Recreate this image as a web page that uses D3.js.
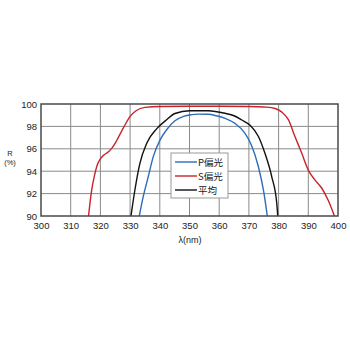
<!DOCTYPE html>
<html><head><meta charset="utf-8">
<script src="https://cdn.jsdelivr.net/npm/d3@7"></script>
<style>body{margin:0;background:#fff}svg{display:block}</style>
</head><body>
<svg id="c" width="350" height="350"></svg>
<script>
const xTicks = [300,310,320,330,340,350,360,370,380,390,400];
const yTicks = [90,92,94,96,98,100];
const seriesNames = ["P偏光","S偏光","平均"];
const seriesColors = ["#2c6db5","#c8232c","#111111"];

const pWl  = [333.1,334.4,336.1,337.8,340.1,342.3,345.1,348,350.7,353,356.3,359,362,365.3,368.7,370.9,373.2,374.9,376.2];
const pVal = [90,91.7,93.5,95.3,96.8,97.7,98.5,98.9,99.05,99.1,99.08,98.95,98.72,98.27,97.38,96.3,94.4,92.3,90];

const sWl  = [316,317,318,319,320,321,322,323,324,325,326,328,330,332,335,340,350,360,370,376,378.8,381,383.3,385.5,387.8,390,392.3,394.5,396.7,398.8];
const sVal = [90,92.2,93.6,94.6,95.1,95.4,95.6,95.8,96.1,96.5,97.0,98.0,98.9,99.4,99.7,99.78,99.8,99.8,99.78,99.72,99.6,99.3,98.6,97.1,95.6,94.1,93.2,92.5,91.4,90];

const aWl  = [330.3,331.6,333.3,335.6,339,342.3,345.1,350,356.3,361.95,365,367.6,370.4,373.2,375.4,377.7,379.4,379.7];
const aVal = [90,92.3,94.7,96.5,97.8,98.6,99.15,99.4,99.4,99.17,98.95,98.57,98.1,97.1,95.6,93.5,91.1,90];

const svg = d3.select("#c");
const L=41, R=338, T=104, B=216;
const x = d3.scaleLinear().domain([300,400]).range([L,R]);
const y = d3.scaleLinear().domain([90,100]).range([B,T]);
const font = "'Liberation Sans', Arial, sans-serif";

// grid
svg.append("g").selectAll("line").data(xTicks.slice(1,-1)).join("line")
  .attr("x1",d=>x(d)).attr("x2",d=>x(d)).attr("y1",T).attr("y2",B)
  .attr("stroke","#8a8a8a").attr("stroke-width",1);
svg.append("g").selectAll("line").data(yTicks.slice(1,-1)).join("line")
  .attr("y1",d=>y(d)).attr("y2",d=>y(d)).attr("x1",L).attr("x2",R)
  .attr("stroke","#8a8a8a").attr("stroke-width",1);

// axes labels
const xa = svg.append("g").attr("transform",`translate(0,${B})`)
  .call(d3.axisBottom(x).tickValues(xTicks).tickSize(0).tickPadding(6));
xa.select(".domain").remove();
xa.selectAll("text").attr("font-family",font).attr("font-size",9.5).attr("fill","#222");
const ya = svg.append("g").attr("transform",`translate(${L},0)`)
  .call(d3.axisLeft(y).tickValues(yTicks).tickSize(0).tickPadding(4));
ya.select(".domain").remove();
ya.selectAll("text").attr("font-family",font).attr("font-size",9.5).attr("fill","#222");

svg.append("text").attr("x",190).attr("y",243).attr("text-anchor","middle")
  .attr("font-family",font).attr("font-size",9).attr("fill","#222").text("λ(nm)");
svg.append("text").attr("x",10).attr("y",156).attr("text-anchor","middle")
  .attr("font-family",font).attr("font-size",7.5).attr("fill","#222").text("R");
svg.append("text").attr("x",10).attr("y",165).attr("text-anchor","middle")
  .attr("font-family",font).attr("font-size",7.5).attr("fill","#222").text("(%)");

// curves
const clip = svg.append("clipPath").attr("id","cp").append("rect")
  .attr("x",L).attr("y",T).attr("width",R-L).attr("height",B-T);
const line = d3.line().x(d=>x(d[0])).y(d=>y(d[1])).curve(d3.curveMonotoneX);
const series = [d3.zip(pWl,pVal), d3.zip(sWl,sVal), d3.zip(aWl,aVal)];
const drawOrder = [1,2,0];
drawOrder.forEach(i=>{
  svg.append("path").datum(series[i]).attr("d",line).attr("fill","none")
    .attr("stroke",seriesColors[i]).attr("stroke-width",1.4).attr("clip-path","url(#cp)");
});

// border
svg.append("rect").attr("x",L).attr("y",T).attr("width",R-L).attr("height",B-T)
  .attr("fill","none").attr("stroke","#4a4a4a").attr("stroke-width",1.5);

// legend
const lg = svg.append("g");
lg.append("rect").attr("x",171).attr("y",153).attr("width",57).attr("height",45)
  .attr("fill","#fff").attr("stroke","#999").attr("stroke-width",1);
seriesNames.forEach((n,i)=>{
  const yy = 162 + i*14;
  lg.append("line").attr("x1",175).attr("x2",197).attr("y1",yy).attr("y2",yy)
    .attr("stroke",seriesColors[i]).attr("stroke-width",1.4);
  lg.append("text").attr("x",198).attr("y",yy+3.5).attr("font-family","'Noto Sans CJK JP', sans-serif")
    .attr("font-size",9.5).attr("fill","#222").text(n);
});
</script>
</body></html>
